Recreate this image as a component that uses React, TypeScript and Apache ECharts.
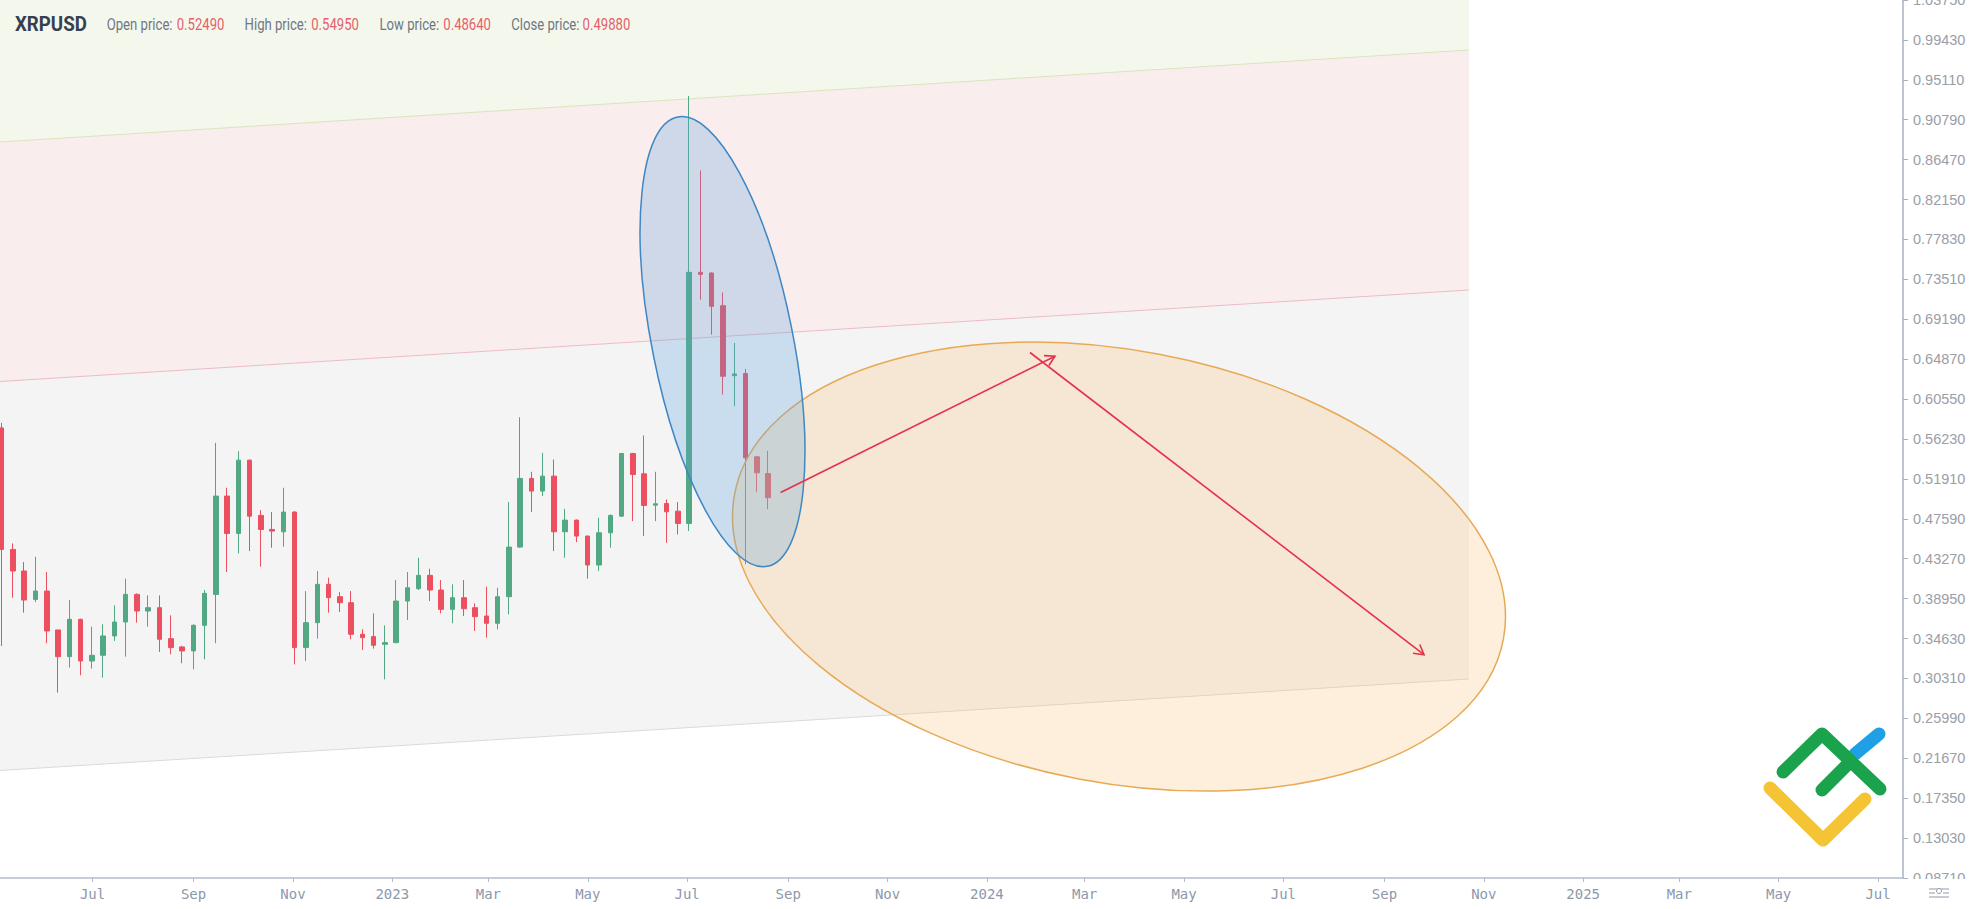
import React, { useEffect, useRef } from 'react';
import * as echarts from 'echarts';

// ---------------- data ----------------
const symbolName = 'XRPUSD';
const headerLabels = ['Open price:', 'High price:', 'Low price:', 'Close price:'];
const headerValues = ['0.52490', '0.54950', '0.48640', '0.49880'];

const weekStarts = [
  '2022-05-09', '2022-05-16', '2022-05-23', '2022-05-30', '2022-06-06', '2022-06-13', '2022-06-20', '2022-06-27',
  '2022-07-04', '2022-07-11', '2022-07-18', '2022-07-25', '2022-08-01', '2022-08-08', '2022-08-15', '2022-08-22',
  '2022-08-29', '2022-09-05', '2022-09-12', '2022-09-19', '2022-09-26', '2022-10-03', '2022-10-10', '2022-10-17',
  '2022-10-24', '2022-10-31', '2022-11-07', '2022-11-14', '2022-11-21', '2022-11-28', '2022-12-05', '2022-12-12',
  '2022-12-19', '2022-12-26', '2023-01-02', '2023-01-09', '2023-01-16', '2023-01-23', '2023-01-30', '2023-02-06',
  '2023-02-13', '2023-02-20', '2023-02-27', '2023-03-06', '2023-03-13', '2023-03-20', '2023-03-27', '2023-04-03',
  '2023-04-10', '2023-04-17', '2023-04-24', '2023-05-01', '2023-05-08', '2023-05-15', '2023-05-22', '2023-05-29',
  '2023-06-05', '2023-06-12', '2023-06-19', '2023-06-26', '2023-07-03', '2023-07-10', '2023-07-17', '2023-07-24',
  '2023-07-31', '2023-08-07', '2023-08-14', '2023-08-21', '2023-08-28',
];
const openPrices = [
  0.5743, 0.4428, 0.4194, 0.3887, 0.3977, 0.3556, 0.3267, 0.3671, 0.3220, 0.3282, 0.3491, 0.3642, 0.3941, 0.3761,
  0.3797, 0.3462, 0.3372, 0.3329, 0.3606, 0.3941, 0.5005, 0.4601, 0.5394, 0.4796, 0.4644, 0.4619, 0.4832, 0.3365,
  0.3635, 0.4050, 0.3916, 0.3851, 0.3509, 0.3484, 0.3401, 0.3419, 0.3869, 0.4003, 0.4147, 0.3988, 0.3779, 0.3905,
  0.3797, 0.3707, 0.3628, 0.3916, 0.4453, 0.5196, 0.5059, 0.5221, 0.4619, 0.4745, 0.4572, 0.4259, 0.4608, 0.4788,
  0.5466, 0.5246, 0.4907, 0.4925, 0.4842, 0.4709, 0.7427, 0.7420, 0.7066, 0.6309, 0.6331, 0.5430, 0.5249,
];
const closePrices = [
  0.4428, 0.4194, 0.3880, 0.3977, 0.3545, 0.3267, 0.3671, 0.3220, 0.3282, 0.3491, 0.3642, 0.3941, 0.3761, 0.3797,
  0.3455, 0.3365, 0.3329, 0.3606, 0.3952, 0.5005, 0.4601, 0.5394, 0.4788, 0.4644, 0.4626, 0.4832, 0.3365, 0.3635,
  0.4050, 0.3905, 0.3851, 0.3509, 0.3473, 0.3390, 0.3419, 0.3869, 0.4013, 0.4147, 0.3988, 0.3779, 0.3905, 0.3786,
  0.3700, 0.3628, 0.3916, 0.4453, 0.5196, 0.5059, 0.5221, 0.4619, 0.4745, 0.4572, 0.4259, 0.4608, 0.4796, 0.5466,
  0.5239, 0.4904, 0.4922, 0.4835, 0.4709, 0.7427, 0.7405, 0.7059, 0.6302, 0.6327, 0.5419, 0.5257, 0.4988,
];
const lowPrices = [
  0.3383, 0.3905, 0.3743, 0.3858, 0.3412, 0.2878, 0.3148, 0.3066, 0.3138, 0.3040, 0.3437, 0.3267, 0.3635, 0.3592,
  0.3318, 0.3293, 0.3195, 0.3131, 0.3238, 0.3412, 0.4183, 0.4385, 0.4410, 0.4241, 0.4446, 0.4457, 0.3184, 0.3220,
  0.3462, 0.3743, 0.3750, 0.3455, 0.3340, 0.3354, 0.3022, 0.3412, 0.3664, 0.3988, 0.3869, 0.3736, 0.3628, 0.3707,
  0.3545, 0.3473, 0.3563, 0.3725, 0.4446, 0.4832, 0.5005, 0.4410, 0.4338, 0.4507, 0.4111, 0.4194, 0.4446, 0.4781,
  0.4734, 0.4572, 0.4734, 0.4500, 0.4590, 0.4626, 0.7131, 0.6753, 0.6104, 0.5978, 0.4266, 0.5048, 0.4864,
];
const highPrices = [
  0.5798, 0.4493, 0.4291, 0.4349, 0.4183, 0.3556, 0.3880, 0.3678, 0.3592, 0.3617, 0.3822, 0.4111, 0.3952, 0.3930,
  0.3930, 0.3714, 0.3383, 0.3617, 0.3988, 0.5581, 0.5095, 0.5491, 0.5401, 0.4853, 0.4832, 0.5095, 0.4843, 0.3977,
  0.4194, 0.4122, 0.3966, 0.3977, 0.3563, 0.3736, 0.3606, 0.4096, 0.4183, 0.4338, 0.4219, 0.4096, 0.4050, 0.4096,
  0.3844, 0.4024, 0.4013, 0.4940, 0.5859, 0.5268, 0.5473, 0.5401, 0.4868, 0.4752, 0.4579, 0.4770, 0.4806, 0.5473,
  0.5473, 0.5661, 0.5268, 0.4969, 0.4940, 0.9337, 0.8530, 0.7427, 0.7210, 0.6663, 0.6381, 0.5437, 0.5495,
];

const yTickValues = [
  0.0871, 0.1303, 0.1735, 0.2167, 0.2599, 0.3031, 0.3463, 0.3895, 0.4327, 0.4759, 0.5191, 0.5623,
  0.6055, 0.6487, 0.6919, 0.7351, 0.7783, 0.8215, 0.8647, 0.9079, 0.9511, 0.9943, 1.0375,
];
const xTickDates = [
  '2022-07-01', '2022-09-01', '2022-11-01', '2023-01-01', '2023-03-01', '2023-05-01', '2023-07-01',
  '2023-09-01', '2023-11-01', '2024-01-01', '2024-03-01', '2024-05-01', '2024-07-01', '2024-09-01',
  '2024-11-01', '2025-01-01', '2025-03-01', '2025-05-01', '2025-07-01',
];
const xTickLabels = [
  'Jul', 'Sep', 'Nov', '2023', 'Mar', 'May', 'Jul', 'Sep', 'Nov', '2024', 'Mar', 'May', 'Jul', 'Sep',
  'Nov', '2025', 'Mar', 'May', 'Jul',
];

// ---------------- helpers ----------------
const toTime = (s: string) => {
  const [y, m, d] = s.split('-').map(Number);
  return new Date(y, m - 1, d).getTime();
};
const DAY = 86400000;
const GRID_W = 1903;
const candleMin = toTime(weekStarts[0]) - 1.06 * DAY;
const candleMax = candleMin + (GRID_W / 1.61) * DAY;
const labelMin = toTime('2022-07-01') - 56.8 * DAY;
const labelMax = labelMin + (GRID_W / 1.6291) * DAY;
const xTickTimes = xTickDates.map(toTime);

function arrow(x1: number, y1: number, x2: number, y2: number, color: string) {
  const dx = x2 - x1;
  const dy = y2 - y1;
  const len = Math.sqrt(dx * dx + dy * dy);
  const bx = -dx / len;
  const by = -dy / len;
  const a = Math.PI / 6;
  const L = 11;
  const p1 = [x2 + L * (bx * Math.cos(a) - by * Math.sin(a)), y2 + L * (bx * Math.sin(a) + by * Math.cos(a))];
  const p2 = [x2 + L * (bx * Math.cos(a) + by * Math.sin(a)), y2 + L * (-bx * Math.sin(a) + by * Math.cos(a))];
  return [
    { type: 'line', z: 20, shape: { x1, y1, x2, y2 }, style: { stroke: color, lineWidth: 1.6 } },
    { type: 'polyline', z: 20, shape: { points: [p1, [x2, y2], p2] }, style: { stroke: color, lineWidth: 1.6, fill: null } },
  ];
}

export default function App() {
  const ref = useRef<HTMLDivElement>(null);
  useEffect(() => {
    if (!ref.current) return;
    const chart = echarts.init(ref.current, undefined, { renderer: 'svg' });

    const candleData = weekStarts.map((w, i) => [toTime(w), openPrices[i], closePrices[i], lowPrices[i], highPrices[i]]);

    const headerX = [106.7, 244.6, 379.5, 511.2];
    const valueX = [176.7, 311.2, 443.3, 582.6];
    const headerTexts: any[] = [
      {
        type: 'text', z: 30, x: 15, y: 24, scaleX: 0.89,
        style: { text: symbolName, font: 'bold 21px Roboto', fill: '#363f50', align: 'left', verticalAlign: 'middle' },
      },
    ];
    headerLabels.forEach((lab, i) => {
      headerTexts.push({
        type: 'text', z: 30, x: headerX[i], y: 24.5, scaleX: 0.82,
        style: { text: lab, font: '16px Roboto', fill: '#6f7684', align: 'left', verticalAlign: 'middle' },
      });
      headerTexts.push({
        type: 'text', z: 30, x: valueX[i], y: 24.5, scaleX: 0.82,
        style: { text: headerValues[i], font: '16px Roboto', fill: '#e4606c', align: 'left', verticalAlign: 'middle' },
      });
    });

    const bandRight = 1469;
    const graphics: any[] = [
      { type: 'polygon', z: -5, shape: { points: [[0, 0], [bandRight, 0], [bandRight, 50], [0, 142]] }, style: { fill: '#f4f8ec' } },
      { type: 'polygon', z: -5, shape: { points: [[0, 142], [bandRight, 50], [bandRight, 290], [0, 381.5]] }, style: { fill: '#faeded' } },
      { type: 'polygon', z: -5, shape: { points: [[0, 381.5], [bandRight, 290], [bandRight, 679], [0, 770.5]] }, style: { fill: '#f4f4f5' } },
      { type: 'line', z: -4, shape: { x1: 0, y1: 142, x2: bandRight, y2: 50 }, style: { stroke: '#d7e5bd', lineWidth: 1 } },
      { type: 'line', z: -4, shape: { x1: 0, y1: 381.5, x2: bandRight, y2: 290 }, style: { stroke: '#ebbcc3', lineWidth: 1 } },
      { type: 'line', z: -4, shape: { x1: 0, y1: 770.5, x2: bandRight, y2: 679 }, style: { stroke: '#dadada', lineWidth: 1 } },
      {
        type: 'ellipse', z: 10, x: 1119, y: 566.6, rotation: -0.187,
        shape: { cx: 0, cy: 0, rx: 391, ry: 216 },
        style: { fill: 'rgba(248,192,115,0.26)', stroke: '#e8a955', lineWidth: 1.5 },
      },
      {
        type: 'ellipse', z: 11, x: 722.5, y: 341.7, rotation: 0.197,
        shape: { cx: 0, cy: 0, rx: 70.4, ry: 229 },
        style: { fill: 'rgba(95,160,220,0.28)', stroke: '#3f87c4', lineWidth: 1.5 },
      },
      ...arrow(780.6, 492.5, 1055, 356.3, '#e5314b'),
      ...arrow(1030, 352.5, 1424, 654.7, '#e5314b'),
      { type: 'polyline', z: 25, shape: { points: [[1855, 754], [1879, 734]] }, style: { stroke: '#1fa0e6', lineWidth: 13, lineCap: 'round', fill: null } },
      { type: 'polyline', z: 25, shape: { points: [[1770, 788], [1823, 840], [1865, 799]] }, style: { stroke: '#f5c434', lineWidth: 13, lineCap: 'round', lineJoin: 'round', fill: null } },
      { type: 'polyline', z: 26, shape: { points: [[1783, 772], [1822, 734], [1880, 789]] }, style: { stroke: '#1ba24c', lineWidth: 13, lineCap: 'round', lineJoin: 'round', fill: null } },
      { type: 'polyline', z: 26, shape: { points: [[1822, 790], [1850, 762]] }, style: { stroke: '#1ba24c', lineWidth: 13, lineCap: 'round', fill: null } },
      { type: 'rect', z: 40, shape: { x: 1905, y: 879, width: 69, height: 30 }, style: { fill: '#ffffff' } },
      { type: 'line', z: 41, shape: { x1: 1929, y1: 889, x2: 1949, y2: 889 }, style: { stroke: '#8e99ab', lineWidth: 1 } },
      { type: 'line', z: 41, shape: { x1: 1929, y1: 893, x2: 1935, y2: 893 }, style: { stroke: '#8e99ab', lineWidth: 1 } },
      { type: 'line', z: 41, shape: { x1: 1943, y1: 893, x2: 1949, y2: 893 }, style: { stroke: '#8e99ab', lineWidth: 1 } },
      { type: 'circle', z: 41, shape: { cx: 1939, cy: 891, r: 2.5 }, style: { stroke: '#8e99ab', fill: '#ffffff', lineWidth: 1 } },
      { type: 'line', z: 41, shape: { x1: 1929, y1: 897, x2: 1949, y2: 897 }, style: { stroke: '#8e99ab', lineWidth: 1 } },
      ...headerTexts,
    ];

    const option: any = {
      animation: false,
      backgroundColor: '#ffffff',
      grid: { left: 0, right: 71, top: 0, bottom: 31, containLabel: false, outerBoundsMode: 'none' },
      xAxis: [
        { type: 'time', min: candleMin, max: candleMax, show: false },
        {
          type: 'value', min: labelMin, max: labelMax, position: 'bottom', scale: true,
          axisLine: { show: true, lineStyle: { color: '#b3bccb', width: 1.5 } },
          axisTick: { show: true, length: 4, customValues: xTickTimes, lineStyle: { color: '#b3bccb' } },
          axisLabel: {
            customValues: xTickTimes,
            formatter: (v: number) => {
              const i = xTickTimes.indexOf(v);
              return i >= 0 ? xTickLabels[i] : '';
            },
            color: '#8d98ab', fontFamily: 'DejaVu Sans Mono', fontSize: 14, margin: 9,
          },
          splitLine: { show: false },
        },
      ],
      yAxis: [
        {
          type: 'value', min: yTickValues[0], max: yTickValues[yTickValues.length - 1], position: 'right',
          axisLine: { show: true, lineStyle: { color: '#a9b1c1', width: 1.5 } },
          axisTick: { show: true, length: 5, customValues: yTickValues, lineStyle: { color: '#a9b1c1' } },
          axisLabel: {
            customValues: yTickValues,
            formatter: (v: number) => v.toFixed(5),
            color: '#9a9ea7', fontFamily: 'Liberation Sans', fontSize: 14.5, margin: 10,
          },
          splitLine: { show: false },
        },
      ],
      series: [
        {
          type: 'candlestick', xAxisIndex: 0, yAxisIndex: 0, z: 5,
          data: candleData,
          encode: { x: 0, y: [1, 2, 3, 4] },
          barWidth: 5,
          itemStyle: {
            color: '#52a883', color0: '#ec4f5f', borderColor: '#52a883', borderColor0: '#ec4f5f', borderWidth: 1,
          },
        },
      ],
      graphic: graphics,
    };
    chart.setOption(option);
    return () => chart.dispose();
  }, []);

  return (
    <div
      ref={ref}
      style={{ position: 'fixed', left: 0, top: 0, width: 1974, height: 909, background: '#ffffff' }}
    />
  );
}
